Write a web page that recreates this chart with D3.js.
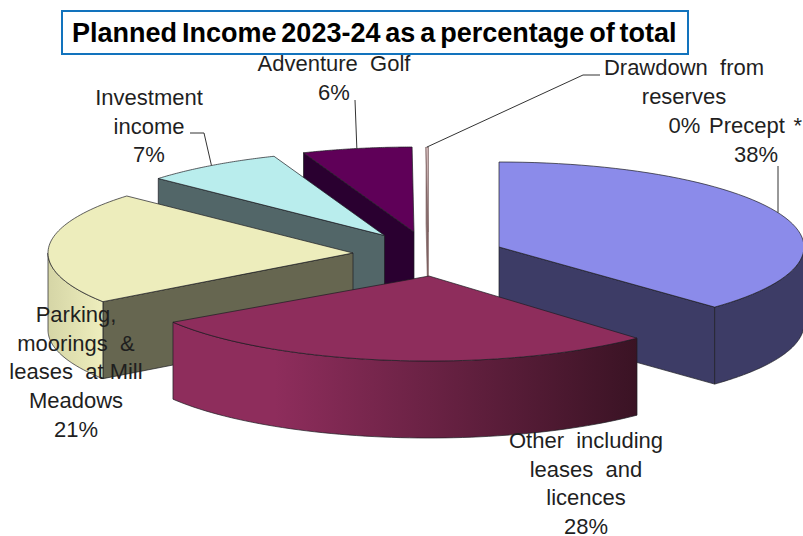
<!DOCTYPE html>
<html>
<head>
<meta charset="utf-8">
<script src="https://cdn.jsdelivr.net/npm/d3@7"></script>
<style>
    body { margin: 0; background: #fff; }
    text { font-family: "Liberation Sans", Arial, sans-serif; white-space: pre; }
</style>
</head>
<body>
<svg class="chart" width="803" height="536"></svg>
<script>
var title = "Planned Income 2023-24 as a percentage of total";
var categories = ["Precept *", "Other including leases and licences", "Parking, moorings & leases at Mill Meadows", "Investment income", "Adventure Golf", "Drawdown from reserves"];
var values = [37.5, 27.8, 21.4, 7.4, 5.8, 0.1];

// Layout, not data
var rx = 305, ry = 85, depth = 77;
var pieCentre = [428, 240];
var explode = [[71, 7], [1, 36], [-75, 13], [-43.5, -4.5], [-14, -8], [0, -8]];
var twist = [0, 2, 0, 0, 0, 0]; // degrees, the front slice sits a little round in the original
var topColors = ["#8b8bea", "#8e2d5c", "#ededbc", "#b9eded", "#5f0058", "#f4dede"];
var sideColors = ["#3d3c66", "#3a1324", "#666650", "#526668", "#2a0030", "#8a6f6f"];
var edgeColors = ["#1c1c22", "#1c1c22", "#1c1c22", "#1c1c22", "#1c1c22", "#7d6060"];
var wallLeftColors = ["#3d3c66", "#8e2d5c", "#d5d5a6", "#526668", "#2a0030", "#8a6f6f"];
var wallRightColors = ["#3d3c66", "#3a1324", "#eeeebd", "#526668", "#2a0030", "#8a6f6f"];

var labelLines = [
    { lines: ["38%"], x: 756, y: 162 },
    { lines: ["Other  including", "leases  and", "licences", "28%"], x: 586, y: 448 },
    { lines: ["Parking,", "moorings  &", "leases  at Mill", "Meadows", "21%"], x: 76, y: 322 },
    { lines: ["Investment", "income", "7%"], x: 149, y: 105 },
    { lines: ["Adventure  Golf", "6%"], x: 334, y: 71 },
    { lines: ["Drawdown  from", "reserves"], x: 684, y: 75 }
];
var extraLabel = { text: "0% Precept *", x: 802, y: 133 };

var svg = d3.select(".chart");
var defs = svg.append("defs");

var pie = d3.pie().sort(null).value(function(d) { return d; });
var slices = pie(values);
slices.forEach(function(s, i) {
    s.startAngle += twist[i] * Math.PI / 180;
    s.endAngle += twist[i] * Math.PI / 180;
});

var line = d3.line();

function apex(i) {
    return [pieCentre[0] + explode[i][0], pieCentre[1] + explode[i][1]];
}

function rim(i, a, drop) {
    var c = apex(i);
    return [c[0] + rx * Math.sin(a), c[1] - ry * Math.cos(a) + (drop || 0)];
}

function arcPoints(i, a0, a1, drop) {
    return d3.range(0, 61).map(function(k) {
        return rim(i, a0 + (a1 - a0) * k / 60, drop);
    });
}

function drawSide(g, i, a, color) {
    var c = apex(i), p = rim(i, a);
    g.append("path")
        .attr("d", line([c, p, [p[0], p[1] + depth], [c[0], c[1] + depth]]) + "Z")
        .attr("fill", color)
        .attr("stroke", edgeColors[i])
        .attr("stroke-width", 0.7);
}

// back to front, the big front slice goes last
var drawOrder = [5, 4, 3, 2, 0, 1];

drawOrder.forEach(function(i) {
    var s = slices[i];
    var g = svg.append("g").attr("class", "slice");

    if (Math.sin(s.startAngle) < 0) drawSide(g, i, s.startAngle, sideColors[i]);
    if (Math.sin(s.endAngle) > 0) drawSide(g, i, s.endAngle, sideColors[i]);

    // outer wall, only the front half of the rim shows
    var w0 = Math.max(s.startAngle, Math.PI / 2), w1 = Math.min(s.endAngle, Math.PI * 1.5);
    if (w1 > w0) {
        var gradId = "wall" + i;
        var xs = [rim(i, w0)[0], rim(i, w1)[0]];
        var grad = defs.append("linearGradient")
            .attr("id", gradId)
            .attr("gradientUnits", "userSpaceOnUse")
            .attr("x1", d3.min(xs)).attr("x2", d3.max(xs))
            .attr("y1", 0).attr("y2", 0);
        grad.append("stop").attr("offset", "0%").attr("stop-color", wallLeftColors[i]);
        if (i === 1) grad.append("stop").attr("offset", "22%").attr("stop-color", wallLeftColors[i]);
        grad.append("stop").attr("offset", "100%").attr("stop-color", wallRightColors[i]);

        g.append("path")
            .attr("d", line(arcPoints(i, w0, w1, 0).concat(arcPoints(i, w1, w0, depth))) + "Z")
            .attr("fill", "url(#" + gradId + ")")
            .attr("stroke", edgeColors[i])
            .attr("stroke-width", 0.7);
    }

    g.append("path")
        .attr("d", line([apex(i)].concat(arcPoints(i, s.startAngle, s.endAngle, 0))) + "Z")
        .attr("fill", topColors[i])
        .attr("stroke", edgeColors[i])
        .attr("stroke-width", 0.7);
});

// leader lines end on the rim at the middle of the slice
var leaderElbows = [
    [[778, 166]],
    null,
    null,
    [[190, 133], [204, 133]],
    [[355, 100]],
    [[600, 75], [583, 75]]
];

leaderElbows.forEach(function(elbow, i) {
    if (!elbow) return;
    var mid = (slices[i].startAngle + slices[i].endAngle) / 2;
    var end = rim(i, mid);
    if (i === 0) end = [elbow[0][0], rim(i, Math.asin((elbow[0][0] - apex(i)[0]) / rx))[1]];
    svg.append("path")
        .attr("d", line(elbow.concat([end])))
        .attr("fill", "none")
        .attr("stroke", "#333")
        .attr("stroke-width", 1);
});

// labels
var labelSize = 22, lineStep = 28.7;
labelLines.forEach(function(d) {
    d.lines.forEach(function(t, k) {
        svg.append("text")
            .attr("x", d.x)
            .attr("y", d.y + k * lineStep)
            .attr("text-anchor", "middle")
            .attr("font-size", labelSize)
            .attr("fill", "#1f1f1f")
            .text(t);
    });
});
svg.append("text")
    .attr("x", extraLabel.x)
    .attr("y", extraLabel.y)
    .attr("text-anchor", "end")
    .attr("font-size", labelSize)
    .attr("word-spacing", 2.5)
    .attr("fill", "#1f1f1f")
    .text(extraLabel.text);

// title box
svg.append("rect")
    .attr("x", 62).attr("y", 11)
    .attr("width", 626).attr("height", 43)
    .attr("fill", "#fff")
    .attr("stroke", "#1273bd")
    .attr("stroke-width", 2);

svg.append("text")
    .attr("x", 72).attr("y", 42)
    .attr("font-size", 27)
    .attr("font-weight", "bold")
    .attr("word-spacing", -2.6)
    .attr("fill", "#000")
    .text(title);
</script>
</body>
</html>
